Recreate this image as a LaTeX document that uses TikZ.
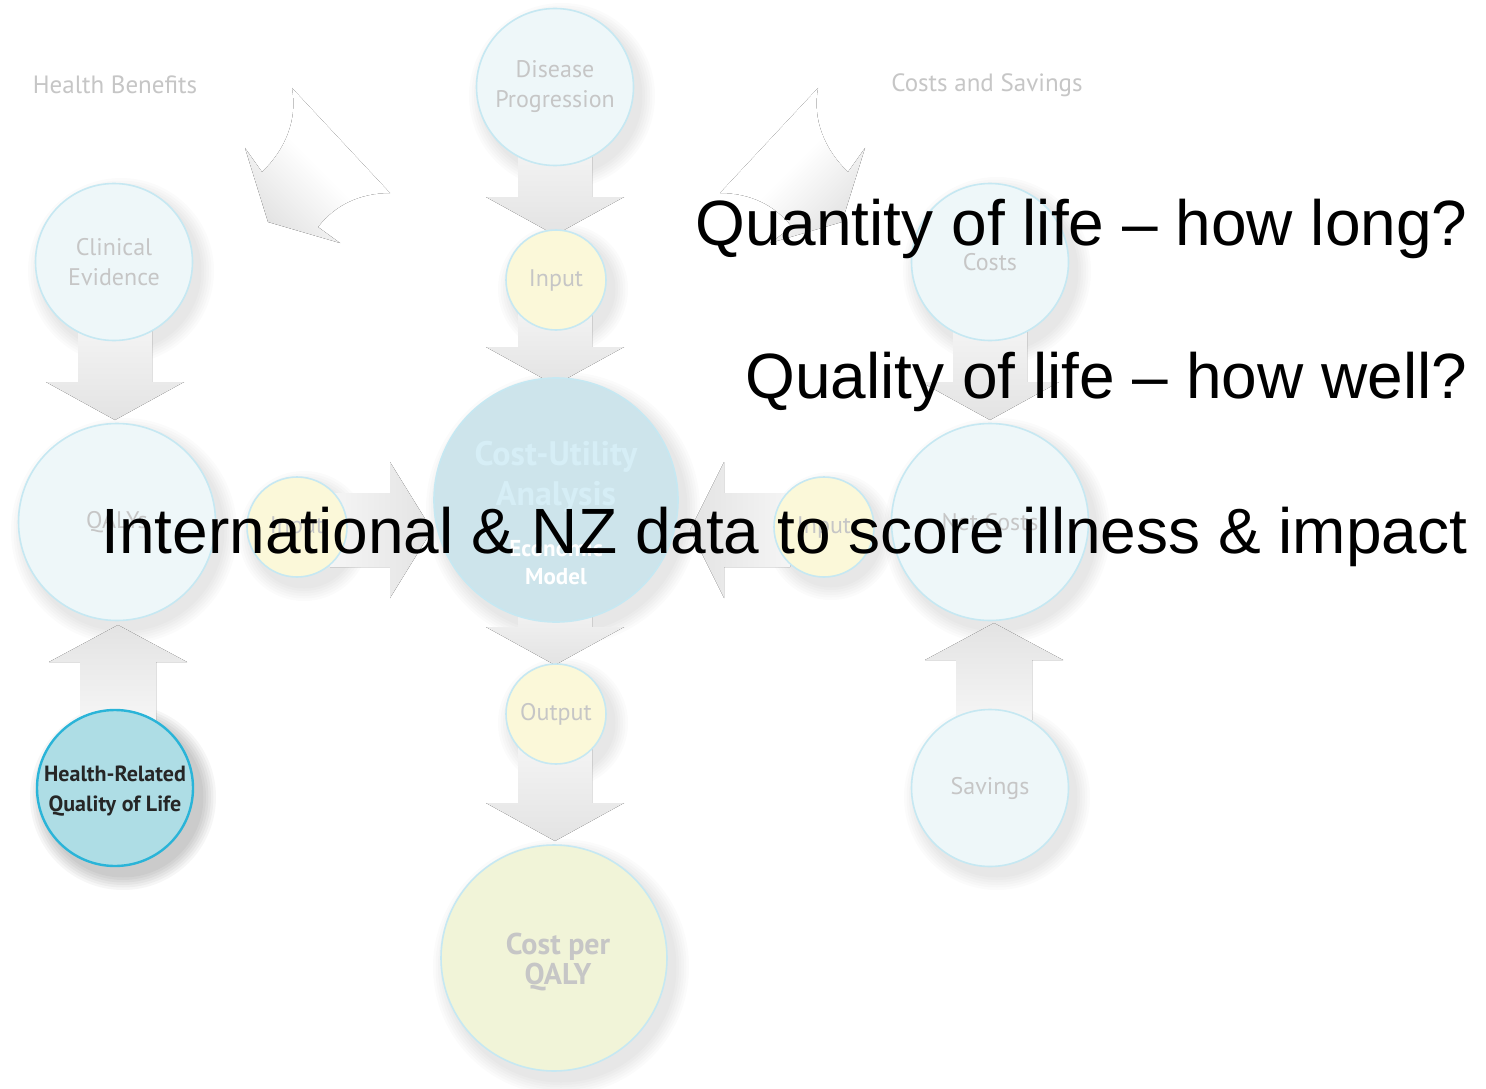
\documentclass[tikz,border=0pt]{standalone}
\usepackage{fontspec}
\setmainfont{Liberation Sans}
\newfontfamily\labelfont{PT Sans}
\usetikzlibrary{calc}
\definecolor{paleblue}{HTML}{EEF7F9}
\definecolor{rimblue}{HTML}{C6E8F2}
\definecolor{paleyellow}{HTML}{FBF8D9}
\definecolor{hubblue}{HTML}{CDE4EB}
\definecolor{hubtext}{HTML}{D6EEF6}
\definecolor{qalyyellow}{HTML}{F1F4D8}
\definecolor{fadetext}{HTML}{C6C6C6}
\definecolor{hrqfill}{HTML}{AEDDE5}
\definecolor{hrqrim}{HTML}{2AB4D8}
\definecolor{arrowgrey}{HTML}{E3E3E3}
% soft shadow under a bubble
\def\haze(#1,#2,#3){\foreach \k in {1,...,6}{\fill[black,opacity=0.016] ({#1+7},{#2+9}) circle ({#3+\k*2.5});}}
% broad block arrows
\def\blockdown(#1,#2,#3){\fill[top color=arrowgrey!35, bottom color=arrowgrey] ({#1-37},#3) -- ({#1+37},#3) -- ({#1+37},{#2-38}) -- ({#1+69},{#2-38}) -- (#1,#2) -- ({#1-69},{#2-38}) -- ({#1-37},{#2-38}) -- cycle;}
\def\blockup(#1,#2,#3){\fill[top color=arrowgrey, bottom color=arrowgrey!35] ({#1-38},#3) -- ({#1+38},#3) -- ({#1+38},{#2+37}) -- ({#1+69},{#2+37}) -- (#1,#2) -- ({#1-69},{#2+37}) -- ({#1-38},{#2+37}) -- cycle;}
\def\blockright(#1,#2,#3){\fill[left color=arrowgrey!35, right color=arrowgrey] (#3,{#2-37}) -- ({#1-42},{#2-37}) -- ({#1-42},{#2-68}) -- (#1,#2) -- ({#1-42},{#2+68}) -- ({#1-42},{#2+37}) -- (#3,{#2+37}) -- cycle;}
\def\blockleft(#1,#2,#3){\fill[left color=arrowgrey, right color=arrowgrey!35] (#3,{#2-37}) -- ({#1+34},{#2-37}) -- ({#1+34},{#2-68}) -- (#1,#2) -- ({#1+34},{#2+68}) -- ({#1+34},{#2+37}) -- (#3,{#2+37}) -- cycle;}

\tikzset{
  bubble/.style={circle, inner sep=0pt, draw=rimblue, line width=1.6pt, fill=paleblue,
    text=fadetext, align=center, font={\labelfont\fontsize{24}{30}\selectfont}},
  smallbub/.style={bubble, fill=paleyellow, minimum size=100pt},
  midbub/.style={bubble, minimum size=157pt},
  bigbub/.style={bubble, minimum size=197pt},
  fadelabel/.style={text=fadetext, font={\labelfont\fontsize{25}{30}\selectfont}},
  claim/.style={anchor=base east, font={\fontsize{64}{70}\selectfont}}
}

\begin{document}
\begin{tikzpicture}[x=1pt, y=-1pt]
  \useasboundingbox[fill=white] (0,0) rectangle (1486,1089);

  %%% shadows
  \haze(555,87,78)
  \haze(556,280,50)
  \haze(556,500,122)
  \haze(556,714,50)
  \haze(554,958,113)
  \haze(114,262,78)
  \haze(117,522,98)
  \haze(297,527,50)
  \haze(990,262,79)
  \haze(990,522,98)
  \haze(824,527,49)
  \haze(990,788,78)
  \foreach \k in {1,...,6}{\fill[black,opacity=0.035] (123,797) circle ({78+\k*2.5});}

  %%% arrows
  \blockdown(555,235,140)
  \blockdown(555,385,300)
  \blockdown(555,665,600)
  \blockdown(555,841,740)
  \blockdown(115,420,320)
  \blockdown(990,420,320)
  \blockup(118,625,720)
  \blockup(994,623,720)
  \blockright(432,530,330)
  \blockleft(690,530,790)
  \fill[top color=white, bottom color=arrowgrey, middle color=white, shading angle=-45] (292,88) .. controls (298,120) and (285,150) .. (262,172) -- (245,148) -- (268,222) -- (340,243) -- (318,227) .. controls (335,205) and (360,193) .. (390,193) -- cycle;
  \fill[top color=white, bottom color=arrowgrey, middle color=white, shading angle=45] (818,88) .. controls (812,120) and (825,150) .. (848,172) -- (865,148) -- (842,222) -- (770,243) -- (792,227) .. controls (775,205) and (750,193) .. (720,193) -- cycle;

  %%% bubbles
  \node[midbub] (disease) at (555,87) {Disease\\Progression};
  \node[smallbub] (inTop) at (556,280) {Input};
  \node[bubble, fill=hubblue, minimum size=244pt] (hub) at (556,500) {};
  \node[smallbub] (outMid) at (556,714) {Output};
  \node[bubble, fill=qalyyellow, minimum size=226pt] (cpq) at (554,958) {};
  \node[midbub] (clinical) at (114,262) {Clinical\\Evidence};
  \node[bigbub] (qalys) at (117,522) {QALYs};
  \node[smallbub] (inLeft) at (297,527) {Input};
  \node[midbub] (costs) at (990,262) {Costs};
  \node[bigbub] (net) at (990,522) {Net Costs};
  \node[smallbub] (inRight) at (824,527) {Input};
  \node[midbub] (savings) at (990,788) {Savings};
  \node[circle, inner sep=0pt, minimum size=156pt, fill=hrqfill, draw=hrqrim, line width=2.4pt] (hrq) at (115,788) {};

  \node[text=fadetext, align=center, font={\labelfont\bfseries\fontsize{30}{30}\selectfont}] (cpqtext) at (558,962) {Cost per\\QALY};
  \node[text=black!85, align=center, font={\labelfont\bfseries\fontsize{22}{30}\selectfont}] (hrqtext) at (115,791) {Health-Related\\Quality of Life};
  \node[text=hubtext, align=center, font={\labelfont\bfseries\fontsize{34}{40}\selectfont}] (cua) at (556,477) {Cost-Utility\\Analysis};
  \node[text=white, align=center, font={\labelfont\bfseries\fontsize{23}{28}\selectfont}] (econ) at (556,562) {Economic\\Model};

  \node[fadelabel] (hb) at (115,85) {Health Benefits};
  \node[fadelabel] (cs) at (987,85) {Costs and Savings};

  %%% statements
  \node[claim] (qty) at (1471,245) {Quantity of life – how long?};
  \node[claim] (qlt) at (1471,398) {Quality of life – how well?};
  \node[claim] (data) at (1471,553) {International \& NZ data to score illness \& impact};
\end{tikzpicture}
\end{document}
